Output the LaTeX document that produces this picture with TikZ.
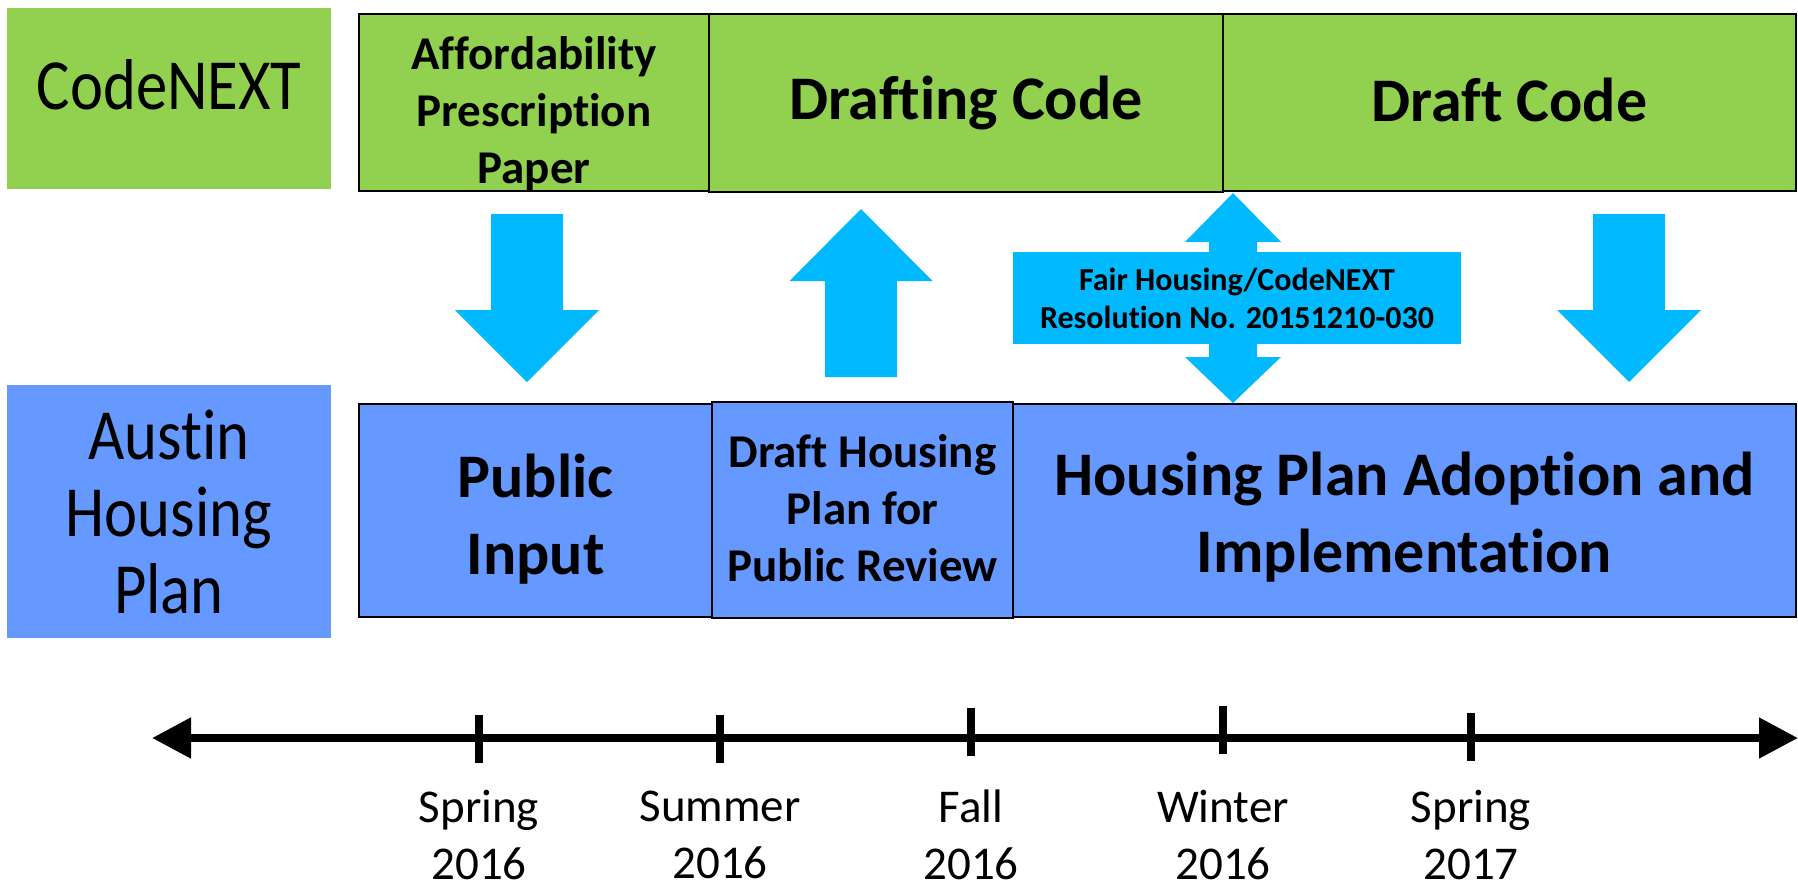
\documentclass[tikz,border=0pt]{standalone}
\usepackage{fontspec}
\setmainfont{Carlito}[Ligatures={NoCommon,NoContextual}]
\newfontfamily\condfont[FakeStretch=0.87,Ligatures={NoCommon,NoContextual}]{Carlito}
\usetikzlibrary{arrows.meta}

\definecolor{codegreen}{HTML}{92D050}
\definecolor{planblue}{HTML}{6699FF}
\definecolor{linkcyan}{HTML}{00B9FF}

\tikzset{
  rowlabel/.style={fill=#1,minimum width=324pt,inner sep=0pt},
  phase/.style={draw=black,line width=2.2pt,fill=#1,inner sep=0pt},
  rowtext/.style={font=\condfont\fontsize{72}{77}\selectfont,align=center,inner sep=0pt},
  bigtext/.style={font=\fontsize{62}{77}\selectfont\bfseries,align=center,inner sep=0pt},
  midtext/.style={font=\fontsize{47}{57}\selectfont\bfseries,align=center,inner sep=0pt},
  blockarrow/.style={fill=linkcyan},
  timeline/.style={line width=8pt,{Triangle[length=39pt,width=39pt]}-{Triangle[length=39pt,width=39pt]}},
  tickmark/.style={line width=8pt},
  season/.style={font=\fontsize{47}{57}\selectfont,align=center,inner sep=0pt}
}

\begin{document}
\begin{tikzpicture}[x=1pt,y=-1pt]
\useasboundingbox (0,0) rectangle (1798,887);

% row labels
\node[rowlabel=codegreen,minimum height=181pt,label={[rowtext,yshift=14pt]center:CodeNEXT}] (codenext) at (169,98.5) {};
\node[rowlabel=planblue,minimum height=253pt,label={[rowtext]center:Austin\\Housing\\Plan}] (austin) at (169,511.5) {};

% block arrows between the rows
\foreach \cx in {527,1629}
  \fill[blockarrow] (\cx-36,214) -- (\cx+36,214) -- (\cx+36,310) -- (\cx+72,310) -- (\cx,382) -- (\cx-72,310) -- (\cx-36,310) -- cycle;
\fill[blockarrow] (861,209) -- (932.5,281) -- (897,281) -- (897,377) -- (825,377) -- (825,281) -- (789.5,281) -- cycle;
\fill[blockarrow] (1233,193) -- (1281,242) -- (1257,242) -- (1257,357) -- (1281,357) -- (1233,403) -- (1185,357) -- (1209,357) -- (1209,242) -- (1185,242) -- cycle;
\node[fill=linkcyan,minimum width=448pt,minimum height=92pt,inner sep=0pt,font=\fontsize{32}{38}\selectfont\bfseries,align=center] (fair) at (1237,298) {Fair Housing/CodeNEXT\\Resolution No. 20151210-030};

% CodeNEXT phases
\node[phase=codegreen,minimum width=350pt,minimum height=177pt,label={[midtext,yshift=-11pt]center:Affordability\\Prescription\\Paper}] (afford) at (534,102.5) {};
\node[phase=codegreen,minimum width=573pt,minimum height=177pt,label={[bigtext,yshift=3pt]center:Draft Code}] (draftcode) at (1509.5,102.5) {};
\node[phase=codegreen,minimum width=514pt,minimum height=178pt,label={[bigtext]center:Drafting Code}] (drafting) at (966,103) {};

% housing plan phases
\node[phase=planblue,minimum width=353pt,minimum height=213pt,label={[bigtext,yshift=-8.5pt]center:Public\\Input}] (input) at (535.5,510.5) {};
\node[phase=planblue,minimum width=783pt,minimum height=213pt,label={[bigtext,yshift=-7pt]center:Housing Plan Adoption and\\Implementation}] (adoption) at (1404.5,510.5) {};
\node[phase=planblue,minimum width=301pt,minimum height=216pt,label={[midtext,yshift=2pt]center:Draft Housing\\Plan for\\Public Review}] (review) at (862.5,510) {};

% timeline
\coordinate (tl-l) at (152,738);
\coordinate (tl-r) at (1798,738);
\draw[timeline] (tl-l) -- (tl-r);
\foreach \x/\y/\season/\yr [count=\n] in {479/715/Spring/2016,720/715/Summer/2016,971/708/Fall/2016,1223/706/Winter/2016,1471/713/Spring/2017}
{
  \draw[tickmark] (\x,\y) -- (\x,\y+48);
  \node[season] (S\n) at (\x,835) {\season\\\yr};
}
\end{tikzpicture}
\end{document}
